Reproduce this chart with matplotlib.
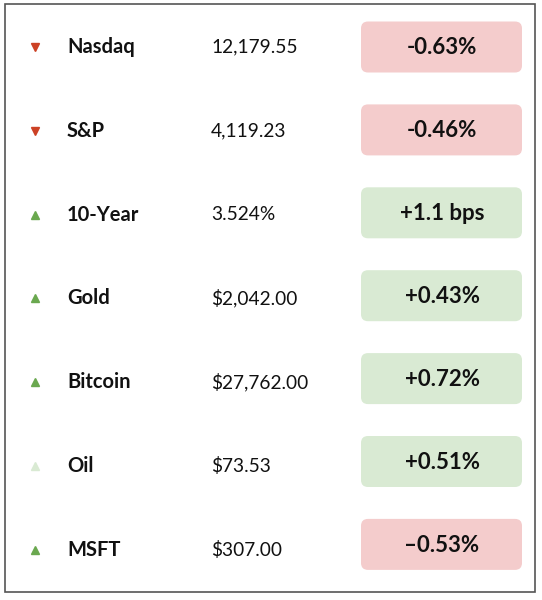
#!/usr/bin/env python3

import matplotlib
matplotlib.use("Agg")
import matplotlib.pyplot as plt
from matplotlib.patches import FancyBboxPatch, Rectangle

plt.rcParams['font.family'] = ['Lato', 'DejaVu Sans']

names = ['Nasdaq', 'S&P', '10-Year', 'Gold', 'Bitcoin', 'Oil', 'MSFT']
prices = ['12,179.55', '4,119.23', '3.524%', '$2,042.00', '$27,762.00', '$73.53', '$307.00']
changes = ['-0.63%', '-0.46%', '+1.1 bps', '+0.43%', '+0.72%', '+0.51%', '\u20130.53%']
direction = ['down', 'down', 'up', 'up', 'up', 'up', 'up']
arrow_colors = ['#cc4125', '#cc4125', '#6aa84f', '#6aa84f', '#6aa84f', '#d9ead3', '#6aa84f']
badge_colors = ['#f4cccc', '#f4cccc', '#d9ead3', '#d9ead3', '#d9ead3', '#d9ead3', '#f4cccc']

fig = plt.figure(figsize=(5.42, 6.0), dpi=100)
ax = fig.add_axes([0, 0, 1, 1])
ax.set_xlim(0, 542)
ax.set_ylim(600, 0)
ax.axis('off')

# outer frame
ax.add_patch(Rectangle((5, 4), 530, 588, fill=False, edgecolor='#555555', lw=1.2))

row_y = [47 + 83.8 * i for i in range(len(names))]
badge_y = [47 + 82.9 * i for i in range(len(names))]

for i, y in enumerate(row_y):
    m = 'v' if direction[i] == 'down' else '^'
    ax.plot(35, y, marker=m, color=arrow_colors[i], markersize=6, linestyle='none')
    ax.text(67, y, names[i], fontsize=14.5, fontweight='bold', va='center', ha='left', color='#111111')
    ax.text(211, y, prices[i], fontsize=13.8, va='center', ha='left', color='#111111')
    by = badge_y[i]
    ax.add_patch(FancyBboxPatch((361, by - 25.5), 161, 51,
                                boxstyle='round,pad=0,rounding_size=7',
                                facecolor=badge_colors[i], edgecolor='none'))
    ax.text(442, by + 1, changes[i], fontsize=16, fontweight='bold', va='center', ha='center', color='#111111')

fig.savefig('out.png', dpi=100)
